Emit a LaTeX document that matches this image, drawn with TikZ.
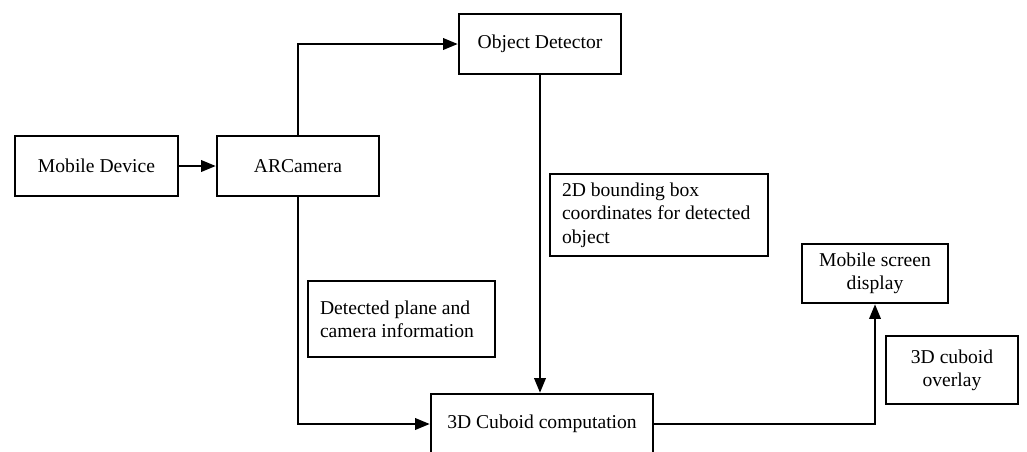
\documentclass[tikz,border=0pt]{standalone}
\usepackage{fontspec}
\setmainfont{Liberation Serif}
\usetikzlibrary{arrows.meta}
\newcommand\pxu{0.75pt}
\begin{document}
\begin{tikzpicture}[x=0.75pt,y=-0.75pt,
  blk/.style={draw=black,line width=1.8pt,minimum width=#1*\pxu,minimum height=60*\pxu,inner sep=0pt,align=center,font=\fontsize{14.7}{17}\selectfont},
  lbl/.style={draw=black,line width=0.8pt,inner sep=0pt,font=\fontsize{14.7}{17.5}\selectfont},
  conn/.style={line width=1.8pt,-{Triangle[length=11pt,width=8.5pt]}}]
\useasboundingbox (0,0) rectangle (1027,451);
\clip (0,0) rectangle (1027,451);
\node[blk=163] (md) at (96.5,166) {Mobile Device};
\node[blk=162] (ar) at (298,166) {ARCamera};
\node[blk=162] (od) at (540,44) {Object Detector};
\node[blk=222] (cub) at (542,424) {3D Cuboid computation};
\node[blk=146,minimum height=59*\pxu] (msd) at (875,273.5) {Mobile screen\\display};
\node[lbl,minimum width=218*\pxu,minimum height=82*\pxu,inner xsep=12*\pxu,text width=194*\pxu,align=flush left] (l2d) at (659,215) {2D bounding box\\coordinates for detected\\object};
\node[lbl,minimum width=187*\pxu,minimum height=76*\pxu,inner xsep=12*\pxu,text width=163*\pxu,align=flush left] (ldp) at (401.5,319) {Detected plane and\\camera information};
\node[lbl,minimum width=132*\pxu,minimum height=68*\pxu,align=center] (lov) at (952,370) {3D cuboid\\overlay};
\draw[conn] (md.east) -- (ar.west);
\draw[conn] (ar.north) |- (od.west);
\draw[conn] (od.south) -- (od.south |- cub.north);
\draw[conn] (ar.south) |- (cub.west);
\draw[conn] (cub.east) -| (msd.south);
\end{tikzpicture}
\end{document}
